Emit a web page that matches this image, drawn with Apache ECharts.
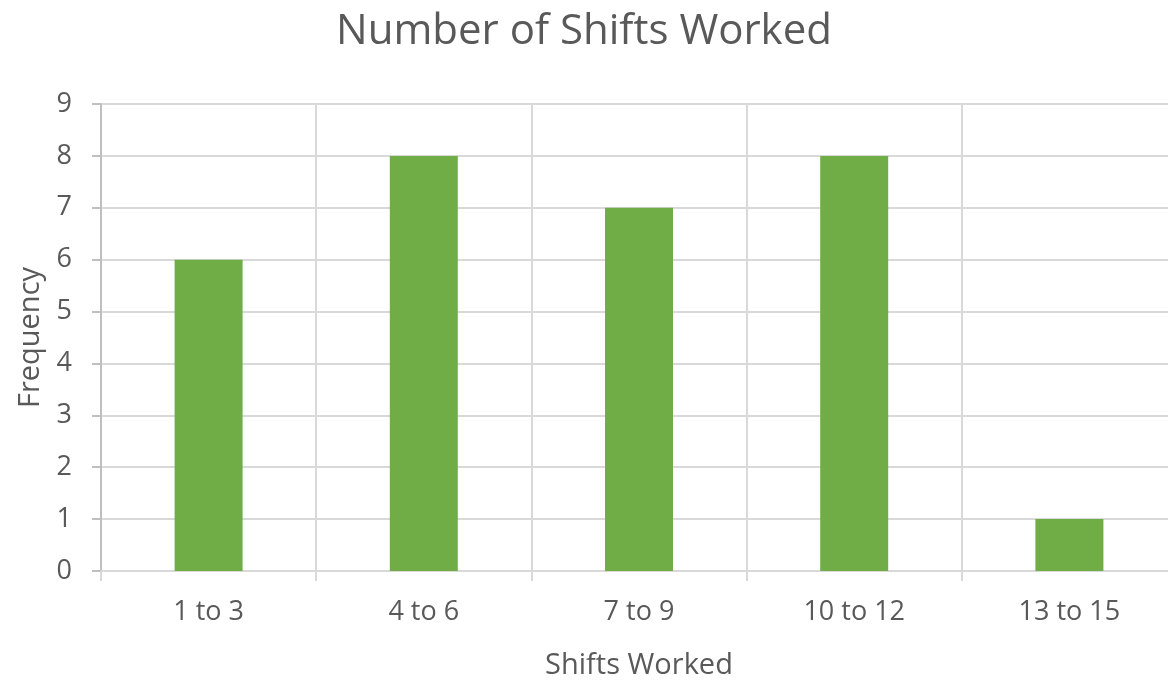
<!DOCTYPE html>
<html>
<head>
<meta charset="utf-8">
<script src="https://cdn.jsdelivr.net/npm/echarts@6/dist/echarts.min.js"></script>
<style>
  html, body { margin: 0; padding: 0; background: #fff; overflow: hidden; }
  #chart { width: 1168px; height: 680px; }
</style>
</head>
<body>
<div id="chart"></div>
<script>
const categories = ['1 to 3', '4 to 6', '7 to 9', '10 to 12', '13 to 15'];
const frequency = [6, 8, 7, 8, 1];
const yTicks = { min: 0, max: 9, interval: 1 };

const textColor = '#595959';
const gridColor = '#d9d9d9';
const font = 'Open Sans';

const chart = echarts.init(document.getElementById('chart'));
chart.setOption({
  animation: false,
  title: {
    text: 'Number of Shifts Worked',
    left: 'center',
    top: 6,
    textStyle: { color: textColor, fontSize: 42, fontWeight: 'normal', fontFamily: font },
  },
  // plot area runs a little past the right edge, like the cropped original
  grid: { left: 101, width: 1076, top: 104, bottom: 109, outerBoundsMode: 'none', containLabel: false },
  xAxis: {
    type: 'category',
    data: categories,
    name: 'Shifts Worked',
    nameLocation: 'middle',
    nameGap: 80,
    nameTextStyle: { color: textColor, fontSize: 29, fontFamily: font },
    axisLine: { lineStyle: { color: gridColor, width: 2 } },
    axisTick: { show: true, interval: 0, length: 10, lineStyle: { color: gridColor, width: 2 } },
    axisLabel: { color: textColor, fontSize: 27, fontFamily: font, margin: 28 },
    splitLine: { show: true, interval: 0, lineStyle: { color: gridColor, width: 2 } },
  },
  yAxis: {
    type: 'value',
    min: yTicks.min,
    max: yTicks.max,
    interval: yTicks.interval,
    name: 'Frequency',
    nameLocation: 'middle',
    nameGap: 56,
    nameTextStyle: { color: textColor, fontSize: 29, fontFamily: font },
    axisLine: { show: true, lineStyle: { color: '#bfbfbf', width: 2 } },
    axisTick: { show: true, length: 9, lineStyle: { color: '#bfbfbf', width: 2 } },
    axisLabel: { color: textColor, fontSize: 27, fontFamily: font, margin: 29 },
    splitLine: { lineStyle: { color: gridColor, width: 2 } },
  },
  series: [{
    type: 'bar',
    data: frequency,
    barWidth: 68,
    itemStyle: { color: '#70ad47' },
  }],
});
</script>
</body>
</html>
